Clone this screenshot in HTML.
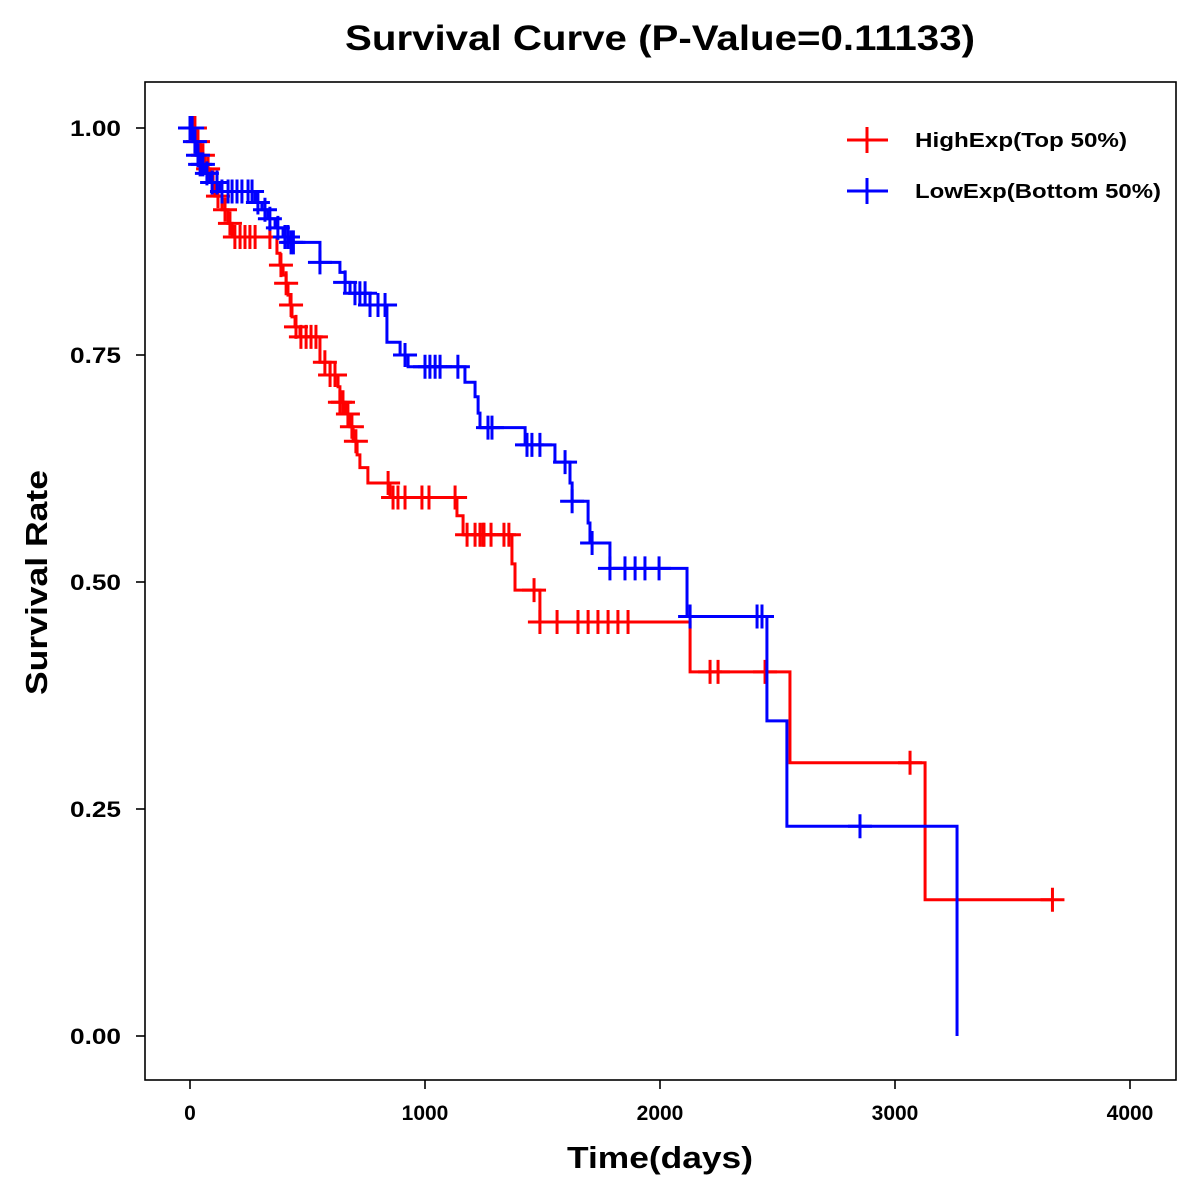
<!DOCTYPE html>
<html><head><meta charset="utf-8"><title>Survival Curve</title>
<style>
html,body{margin:0;padding:0;background:#fff;}
svg{display:block;font-family:"Liberation Sans",Arial,sans-serif;}
</style></head>
<body>
<svg id="chart" width="1200" height="1200" viewBox="0 0 1200 1200">
  <rect x="0" y="0" width="1200" height="1200" fill="#fff"/>
  <text x="345" y="50" font-size="35" font-weight="bold" textLength="630" lengthAdjust="spacingAndGlyphs">Survival Curve (P-Value=0.11133)</text>
  <rect x="145" y="82" width="1031" height="998" fill="none" stroke="#000" stroke-width="1.6"/>
  <g id="xaxis"></g>
  <g id="yaxis"></g>
  <text x="567" y="1168" font-size="31" font-weight="bold" textLength="186" lengthAdjust="spacingAndGlyphs">Time(days)</text>
  <text x="0" y="0" transform="translate(47,695) rotate(-90)" font-size="31" font-weight="bold" textLength="225" lengthAdjust="spacingAndGlyphs">Survival Rate</text>
  <g id="series"></g>
  <g>
    <g>
      <line x1="847" y1="140" x2="888" y2="140" stroke="#f00" stroke-width="3"/>
      <line x1="867" y1="127" x2="867" y2="153" stroke="#f00" stroke-width="3"/>
      <text x="915" y="147" font-size="20" font-weight="bold" textLength="212" lengthAdjust="spacingAndGlyphs">HighExp(Top 50%)</text>
    </g>
    <g>
      <line x1="847" y1="191" x2="888" y2="191" stroke="#00f" stroke-width="3"/>
      <line x1="867" y1="178" x2="867" y2="204" stroke="#00f" stroke-width="3"/>
      <text x="915" y="198" font-size="20" font-weight="bold" textLength="246" lengthAdjust="spacingAndGlyphs">LowExp(Bottom 50%)</text>
    </g>
  </g>
</svg>
<script>
const xTicks = [0, 1000, 2000, 3000, 4000];
const yTicks = [0, 0.25, 0.5, 0.75, 1.0];
const yTickLabels = ["0.00", "0.25", "0.50", "0.75", "1.00"];

const highTimes = [0, 30, 43, 64, 85, 106, 136, 162, 179, 370, 383, 396, 409, 417, 426, 434, 447, 468, 553, 596, 630, 638, 660, 681, 694, 711, 723, 757, 851, 1136, 1162, 1370, 1383, 1489, 2128, 2553, 3128];
const highSurv  = [1.0, 0.985, 0.97, 0.955, 0.94, 0.925, 0.91, 0.895, 0.88, 0.862, 0.849, 0.838, 0.829, 0.816, 0.805, 0.792, 0.781, 0.770, 0.742, 0.728, 0.715, 0.698, 0.685, 0.671, 0.655, 0.640, 0.626, 0.609, 0.593, 0.573, 0.552, 0.520, 0.491, 0.456, 0.401, 0.301, 0.150];
const highCensor = [21, 34, 55, 77, 98, 119, 149, 170, 191, 213, 234, 255, 277, 340, 387, 409, 430, 451, 472, 494, 515, 536, 574, 596, 617, 638, 651, 672, 689, 706, 843, 864, 885, 915, 987, 1017, 1128, 1179, 1213, 1234, 1247, 1251, 1281, 1336, 1357, 1464, 1489, 1562, 1651, 1694, 1736, 1779, 1821, 1864, 2213, 2247, 2447, 3064, 3670];

const lowTimes = [0, 13, 26, 43, 64, 85, 128, 277, 306, 332, 362, 396, 426, 553, 638, 660, 681, 766, 838, 894, 928, 1170, 1213, 1226, 1234, 1426, 1553, 1617, 1626, 1694, 1702, 1787, 2115, 2455, 2540, 3264];
const lowSurv  = [1.0, 0.985, 0.97, 0.96, 0.95, 0.94, 0.93, 0.918, 0.91, 0.90, 0.89, 0.88, 0.874, 0.852, 0.841, 0.830, 0.818, 0.805, 0.764, 0.75, 0.737, 0.720, 0.704, 0.686, 0.670, 0.651, 0.632, 0.609, 0.589, 0.565, 0.543, 0.515, 0.462, 0.347, 0.231, 0.0];
const lowCensor = [0, 9, 21, 34, 43, 55, 72, 94, 115, 136, 162, 179, 200, 221, 247, 264, 289, 319, 340, 374, 404, 417, 430, 440, 553, 660, 702, 723, 745, 766, 800, 830, 915, 1000, 1021, 1043, 1064, 1140, 1268, 1285, 1434, 1455, 1489, 1596, 1626, 1711, 1787, 1851, 1894, 1936, 1996, 2128, 2413, 2434, 2851];

const X0 = 190, XS = 0.235, Y0 = 1036, YS = 908;
function xs(d) { return X0 + d * XS; }
function ys(v) { return Y0 - v * YS; }
const NS = "http://www.w3.org/2000/svg";
function mk(tag, attrs, parent) {
  const e = document.createElementNS(NS, tag);
  for (const k in attrs) e.setAttribute(k, attrs[k]);
  parent.appendChild(e);
  return e;
}

const xa = document.getElementById('xaxis');
xTicks.forEach(t => {
  const l = mk('line', {x1: xs(t), x2: xs(t), y1: 1080, y2: 1089, stroke: '#000', 'stroke-width': 1.6}, xa);
  
  
  const tx = mk('text', {x: xs(t), y: 1120, 'text-anchor': 'middle', 'font-size': 21, 'font-weight': 'bold'}, xa);
  tx.textContent = String(t);
  
  
});
const ya = document.getElementById('yaxis');
yTicks.forEach((t, i) => {
  const l = mk('line', {x1: 136, x2: 145, y1: ys(t), y2: ys(t), stroke: '#000', 'stroke-width': 1.6}, ya);
  
  
  const tx = mk('text', {x: 70, y: ys(t) + 8, 'font-size': 22, 'font-weight': 'bold', textLength: 51, lengthAdjust: 'spacingAndGlyphs'}, ya);
  tx.textContent = yTickLabels[i];
  
  
});

function survAt(times, surv, t) {
  let v = surv[0];
  for (let i = 0; i < times.length; i++) { if (times[i] <= t) v = surv[i]; }
  return v;
}
const sg = document.getElementById('series');
function drawSeries(times, surv, cens, color, name) {
  const endT = Math.max(times[times.length - 1], cens[cens.length - 1]);
  let d = 'M' + xs(times[0]) + ',' + ys(surv[0]);
  for (let i = 1; i < times.length; i++) {
    d += ' H' + xs(times[i]) + ' V' + ys(surv[i]);
  }
  d += ' H' + xs(endT);
  const p = mk('path', {d: d, fill: 'none', stroke: color, 'stroke-width': 3}, sg);
  
  
  cens.forEach(c => {
    const cx = xs(c), cy = ys(survAt(times, surv, c));
    const g = mk('path', {d: 'M' + (cx - 12) + ',' + cy + ' H' + (cx + 12) + ' M' + cx + ',' + (cy - 12) + ' V' + (cy + 12), stroke: color, 'stroke-width': 3, fill: 'none'}, sg);
    
    
  });
}
drawSeries(highTimes, highSurv, highCensor, '#ff0000', 'highexp');
drawSeries(lowTimes, lowSurv, lowCensor, '#0000ff', 'lowexp');
</script>
</body></html>
